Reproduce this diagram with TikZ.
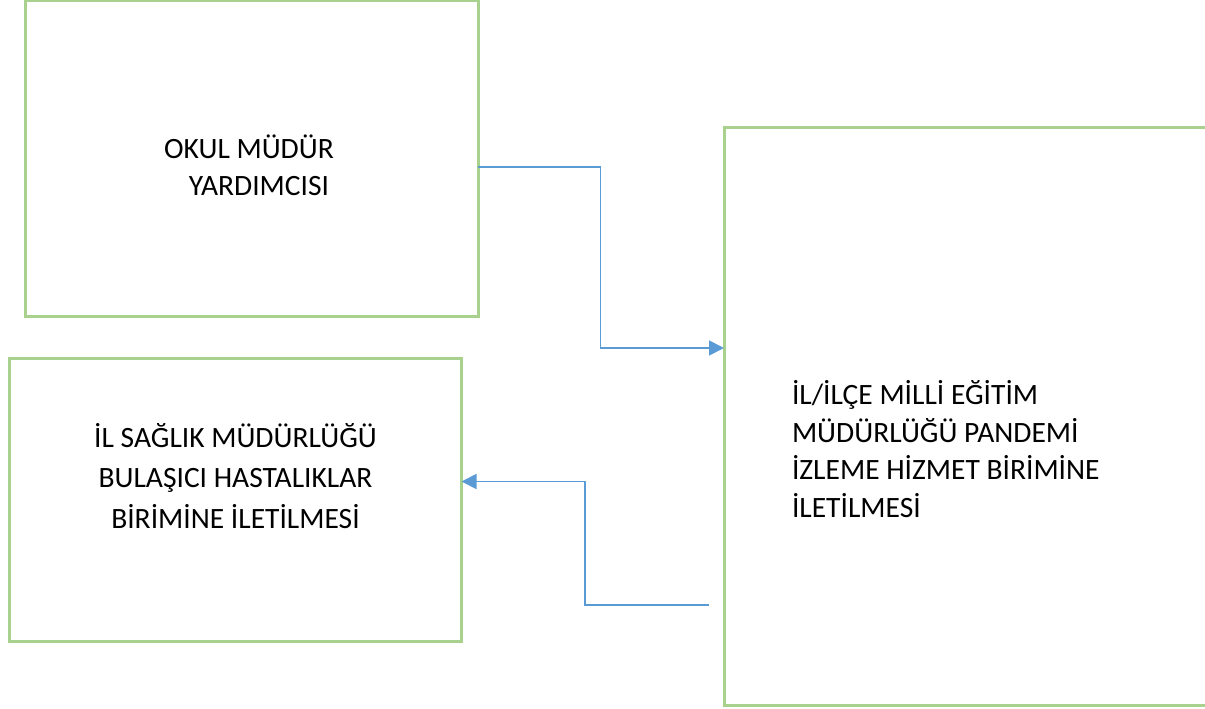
\documentclass[tikz,border=0pt]{standalone}
\usepackage{fontspec}
\setmainfont{Carlito}
\usetikzlibrary{arrows.meta}
\definecolor{boxgreen}{HTML}{A9D18E}
\definecolor{linkblue}{HTML}{5B9BD5}
\tikzset{
  box/.style={draw=boxgreen, line width=3pt, rectangle, inner sep=0pt, outer sep=0pt},
  conn/.style={draw=linkblue, line width=1.8pt, -{Triangle[length=15pt,width=15pt]}},
  lbl/.style={inner sep=0pt, outer sep=0pt, font=\fontsize{29.5}{37.4}\selectfont}
}
\begin{document}
\begin{tikzpicture}[x=1pt,y=-1pt]
\useasboundingbox (0,0) rectangle (1205,709);
\clip (0,0) rectangle (1205,709);
\node[box, minimum width=452.5pt, minimum height=315pt] (b1) at (251.75,158.5) {};
\node[box, minimum width=452pt, minimum height=283pt] (b2) at (235.5,500) {};
\node[box, minimum width=520pt, minimum height=577.5pt, anchor=north west] (b3) at (724,127.5) {};
\node[lbl, align=center, anchor=base] (t1) at (249,195.7) {OKUL MÜDÜR\\\hspace*{20pt}YARDIMCISI};
\node[lbl, align=center, anchor=base, font=\fontsize{29.5}{40.5}\selectfont] (t2) at (235.5,528.3) {İL SAĞLIK MÜDÜRLÜĞÜ\\BULAŞICI HASTALIKLAR\\BİRİMİNE İLETİLMESİ};
\node[lbl, align=left, anchor=base west] (t3) at (792,517) {İL/İLÇE MİLLİ EĞİTİM\\MÜDÜRLÜĞÜ PANDEMİ\\İZLEME HİZMET BİRİMİNE\\İLETİLMESİ};
\coordinate (c2) at (709,605);
\draw[conn] (b1.east |- 0,167) -- (600.5,167) |- (b3.west |- 0,348);
\draw[conn] (c2) -- (585,605) |- (b2.east |- 0,481.5);
\end{tikzpicture}
\end{document}
